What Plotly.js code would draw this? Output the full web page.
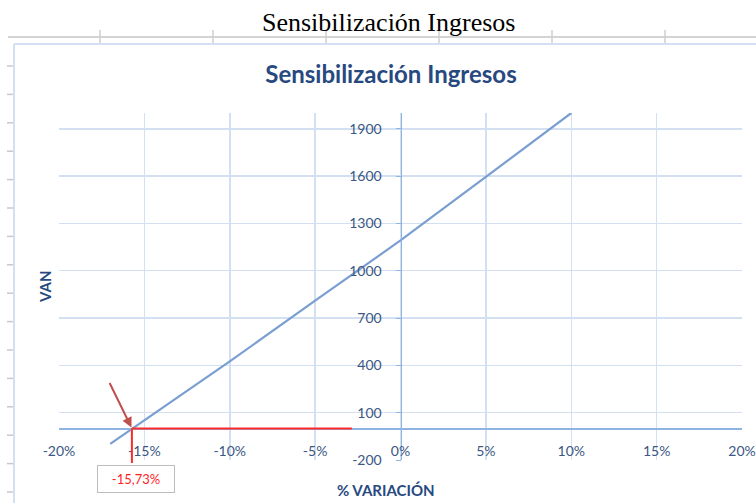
<!DOCTYPE html>
<html>
<head>
<meta charset="utf-8">
<script src="https://cdn.plot.ly/plotly-3.0.1.min.js"></script>
<style>
  html, body { margin: 0; padding: 0; background: #ffffff; }
  #chart { width: 756px; height: 503px; }
</style>
</head>
<body>
<div id="chart"></div>
<script>
// ---- data ----
const variacion = [-0.17, -0.15, -0.10, -0.05, 0.00, 0.05, 0.10];
const van       = [-98, 52, 425, 810, 1192, 1595, 2000];
const xTickVals = [-0.20, -0.15, -0.10, -0.05, 0.00, 0.05, 0.10, 0.15, 0.20];
const xTickText = ['-20%', '-15%', '-10%', '-5%', '0%', '5%', '10%', '15%', '20%'];
const yTickVals = [-200, 100, 400, 700, 1000, 1300, 1600, 1900];
const yTickText = ['-200', '100', '400', '700', '1000', '1300', '1600', '1900'];
const breakEvenX = -0.1573;
const breakEvenLabel = '-15,73%';
const breakEvenLineEnd = -0.0285;

const xRange = [-0.2, 0.2];
const yRange = [-200, 2000];

// ---- layout geometry ----
const W = 756, H = 503;
const M = { l: 59, r: 14, t: 113, b: 43 };
const PW = W - M.l - M.r, PH = H - M.t - M.b;
const px = v => (v - M.l) / PW;          // pixel x -> paper x
const py = v => (H - M.b - v) / PH;      // pixel y -> paper y

const gridCol = '#D3E0F2';
const axisCol = '#8EB4E3';
const tickFontCol = '#3B5783';
const titleCol = '#27497F';

// spreadsheet decorations (behind the chart)
const shapes = [];
shapes.push({type: 'line', xref: 'paper', yref: 'paper', x0: px(8), x1: px(756), y0: py(37), y1: py(37),
  line: {color: '#D4D4D4', width: 2}, layer: 'below'});
[100, 213, 326, 439, 552, 665].forEach(x => shapes.push({type: 'line', xref: 'paper', yref: 'paper',
  x0: px(x), x1: px(x), y0: py(30), y1: py(44), line: {color: '#CFCFCF', width: 1.5}, layer: 'below'}));
for (let y = 66; y < 503; y += 28.4) {
  shapes.push({type: 'line', xref: 'paper', yref: 'paper', x0: px(7), x1: px(14), y0: py(y), y1: py(y),
    line: {color: '#C8C8C8', width: 1.5}, layer: 'below'});
}
// chart area border
shapes.push({type: 'line', xref: 'paper', yref: 'paper', x0: px(14), x1: px(14), y0: py(44), y1: py(503),
  line: {color: '#D3E0F2', width: 2}, layer: 'below'});
shapes.push({type: 'line', xref: 'paper', yref: 'paper', x0: px(14), x1: px(756), y0: py(44), y1: py(44),
  line: {color: '#D3E0F2', width: 2}, layer: 'below'});
// red break-even horizontal line
shapes.push({type: 'line', xref: 'x', yref: 'y', x0: breakEvenX, x1: breakEvenLineEnd, y0: 0, y1: 0,
  line: {color: '#FF2A2A', width: 2}, layer: 'above'});

const annotations = [
  {xref: 'paper', yref: 'paper', x: px(388), y: py(23), text: 'Sensibilización Ingresos', showarrow: false,
   xanchor: 'center', yanchor: 'middle', font: {family: 'Liberation Serif, Times New Roman, serif', size: 26, color: '#000000'}},
  {xref: 'paper', yref: 'paper', x: px(45), y: py(287), text: '<b>VAN</b>', showarrow: false, textangle: -90,
   xanchor: 'center', yanchor: 'middle', font: {family: 'Lato, sans-serif', size: 15, color: titleCol}},
  {xref: 'paper', yref: 'paper', x: px(386), y: py(490), text: '<b>% VARIACIÓN</b>', showarrow: false,
   xanchor: 'center', yanchor: 'middle', font: {family: 'Lato, sans-serif', size: 15, color: titleCol}},
  // red vertical drop line
  {xref: 'x', yref: 'y', x: breakEvenX, y: 0, text: '', showarrow: true, ax: 0, ay: 36,
   arrowhead: 0, arrowwidth: 2, arrowcolor: '#FF2A2A', standoff: 0, startstandoff: 0},
  // dark red pointer arrow
  {xref: 'x', yref: 'y', x: breakEvenX, y: 0, text: '', showarrow: true, ax: -23, ay: -47,
   arrowhead: 2, arrowsize: 1, arrowwidth: 2, arrowcolor: '#C0504D', standoff: 1},
  // label box
  {xref: 'x', yref: 'paper', x: breakEvenX, y: py(479), xshift: 4, text: breakEvenLabel, showarrow: false,
   xanchor: 'center', yanchor: 'middle', width: 72, height: 22, bgcolor: '#FFFFFF',
   bordercolor: '#BDBDBD', borderwidth: 1, borderpad: 2,
   font: {family: 'Lato, sans-serif', size: 13, color: '#FF1F1F'}}
];

const trace = {
  x: variacion, y: van, type: 'scatter', mode: 'lines',
  line: {color: '#7A9ED2', width: 2.2}, hoverinfo: 'x+y', showlegend: false
};

const layout = {
  width: W, height: H,
  margin: M,
  paper_bgcolor: '#FFFFFF', plot_bgcolor: '#FFFFFF',
  title: {text: '<b>Sensibilización Ingresos</b>', xref: 'container', yref: 'container',
          x: 391 / W, y: 1 - 75 / H, xanchor: 'center', yanchor: 'middle',
          font: {family: 'Lato, sans-serif', size: 24, color: titleCol}},
  xaxis: {
    range: xRange, tickvals: xTickVals, ticktext: xTickText,
    anchor: 'free', position: (0 - yRange[0]) / (yRange[1] - yRange[0]),
    showgrid: true, gridcolor: gridCol, gridwidth: 1.5,
    showline: true, linecolor: axisCol, linewidth: 1.5,
    zeroline: false, ticks: '', ticklabelstandoff: 9,
    tickfont: {family: 'Lato, sans-serif', size: 14, color: tickFontCol}
  },
  yaxis: {
    range: yRange, tickvals: yTickVals, ticktext: yTickText,
    anchor: 'free', position: 0.5,
    showgrid: true, gridcolor: gridCol, gridwidth: 1.5,
    showline: true, linecolor: axisCol, linewidth: 1.5,
    zeroline: false, ticks: 'outside', ticklen: 5, tickcolor: axisCol, ticklabelstandoff: 11,
    tickfont: {family: 'Lato, sans-serif', size: 14, color: tickFontCol}
  },
  shapes: shapes,
  annotations: annotations
};

Plotly.newPlot('chart', [trace], layout, {displayModeBar: false, staticPlot: true});
</script>
</body>
</html>
